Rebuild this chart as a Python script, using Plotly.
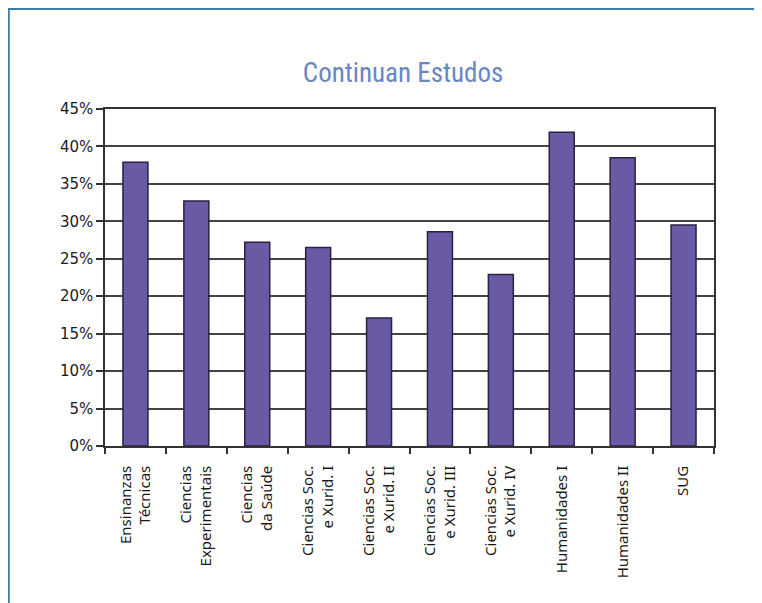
import plotly.graph_objects as go

categories = [
    "Ensinanzas<br>Técnicas",
    "Ciencias<br>Experimentais",
    "Ciencias<br>da Saúde",
    "Ciencias Soc.<br>e Xurid. I",
    "Ciencias Soc.<br>e Xurid. II",
    "Ciencias Soc.<br>e Xurid. III",
    "Ciencias Soc.<br>e Xurid. IV",
    "Humanidades I",
    "Humanidades II",
    "SUG",
]
values = [0.379, 0.327, 0.272, 0.265, 0.171, 0.286, 0.229, 0.419, 0.385, 0.295]
y_ticks = [0, 0.05, 0.10, 0.15, 0.20, 0.25, 0.30, 0.35, 0.40, 0.45]
y_tick_labels = ["0%", "5%", "10%", "15%", "20%", "25%", "30%", "35%", "40%", "45%"]

fig = go.Figure(
    go.Bar(
        x=categories,
        y=values,
        width=0.41,
        marker=dict(color="#6A5AA6", line=dict(color="#2A2040", width=1.5)),
    )
)

fig.update_layout(
    width=754,
    height=595,
    margin=dict(l=97, r=48, t=101, b=157),
    paper_bgcolor="white",
    plot_bgcolor="white",
    showlegend=False,
    title=dict(
        text="Continuan Estudos",
        x=0.524,
        xanchor="center",
        y=0.892,
        yanchor="middle",
        font=dict(family="Liberation Sans Narrow, Roboto Condensed, Arial Narrow, sans-serif",
                  size=27, color="#6A86C4"),
    ),
    font=dict(family="Noto Sans, Open Sans, sans-serif", size=15, color="#1a1a1a"),
    shapes=[
        dict(type="rect", xref="paper", yref="paper",
             x0=-0.158, x1=1.3, y0=-0.7, y1=1.297,
             line=dict(color="#3F7BA8", width=2), fillcolor="rgba(0,0,0,0)", layer="below"),
    ],
)

fig.update_xaxes(
    type="category",
    tickangle=-90,
    ticks="outside",
    tickson="boundaries",
    ticklen=6,
    tickcolor="#333333",
    tickwidth=1.5,
    showline=True,
    linecolor="#333333",
    linewidth=1.5,
    mirror=True,
    showgrid=False,
    ticklabelstandoff=12,
    tickfont=dict(size=15),
)

fig.update_yaxes(
    range=[0, 0.45],
    tickvals=y_ticks,
    ticktext=y_tick_labels,
    ticks="outside",
    ticklen=7,
    tickcolor="#333333",
    tickwidth=1.5,
    showline=True,
    linecolor="#333333",
    linewidth=1.5,
    mirror=True,
    showgrid=True,
    gridcolor="#444444",
    gridwidth=1.5,
    zeroline=False,
    tickfont=dict(family="DejaVu Sans, sans-serif", size=15),
)

fig.write_html("out.html")
